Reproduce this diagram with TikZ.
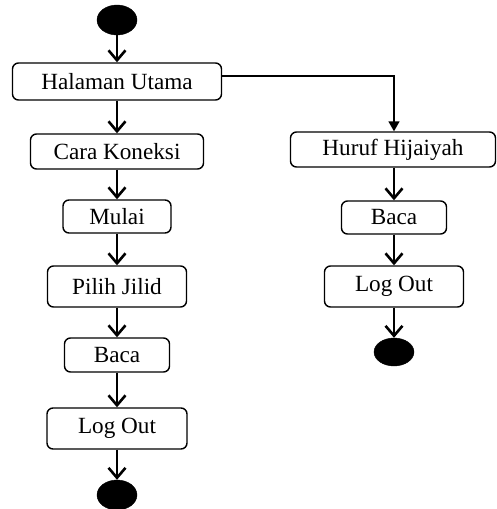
\documentclass[tikz,border=0pt]{standalone}
\usepackage{fontspec}
\setmainfont{Liberation Serif}
\usetikzlibrary{shapes.geometric,arrows.meta}
\begin{document}
\begin{tikzpicture}[x=1pt,y=-1pt,
  act/.style={draw, line width=1.4pt, rounded corners=6pt, inner sep=0pt,
    font=\fontsize{23.2}{27}\selectfont},
  dot/.style={ellipse, fill=black, draw=black, inner sep=0pt},
  flow/.style={line width=2.5pt, -{Straight Barb[length=10pt,width=17pt,line width=2.6pt]}},
  branch/.style={line width=1.5pt, -{Triangle[length=10pt,width=11pt]}}]
\useasboundingbox (0,0) rectangle (496,509);
% left column
\node[dot, minimum width=40pt, minimum height=30pt] (s) at (117,20) {};
\node[act, minimum width=209pt, minimum height=37pt] (hu) at (117,81.5) {Halaman Utama};
\node[act, minimum width=173pt, minimum height=35pt] (ck) at (117,151.5) {Cara Koneksi};
\node[act, minimum width=108pt, minimum height=33pt] (mu) at (117,216.5) {Mulai};
\node[act, minimum width=139pt, minimum height=41pt] (pj) at (117,286.5) {Pilih Jilid};
\node[act, minimum width=105pt, minimum height=34pt] (ba) at (117,355) {Baca};
\node[act, minimum width=140pt, minimum height=41pt] (lo) at (117,428.5) {Log Out};
\node[dot, minimum width=40pt, minimum height=30pt] (e) at (117,495) {};
% right column
\node[act, minimum width=205pt, minimum height=35pt] (hh) at (393,149.5) {Huruf Hijaiyah};
\node[act, minimum width=105pt, minimum height=33pt] (bb) at (394,217.5) {Baca};
\node[act, minimum width=139pt, minimum height=41pt] (lb) at (394,286.5) {Log Out};
\node[dot, minimum width=40pt, minimum height=28pt] (eb) at (394,352) {};
% connectors
\draw[flow] (s) -- (hu);
\draw[flow] (hu) -- (ck);
\draw[flow] (ck) -- (mu);
\draw[flow] (mu) -- (pj);
\draw[flow] (pj) -- (ba);
\draw[flow] (ba) -- (lo);
\draw[flow] (lo) -- (e);
\draw[branch] (hu.east |- 0,76) -| (bb.north |- hh.north);
\draw[flow] (hh.south -| bb) -- (bb);
\draw[flow] (bb) -- (lb);
\draw[flow] (lb) -- (eb);
\end{tikzpicture}
\end{document}
